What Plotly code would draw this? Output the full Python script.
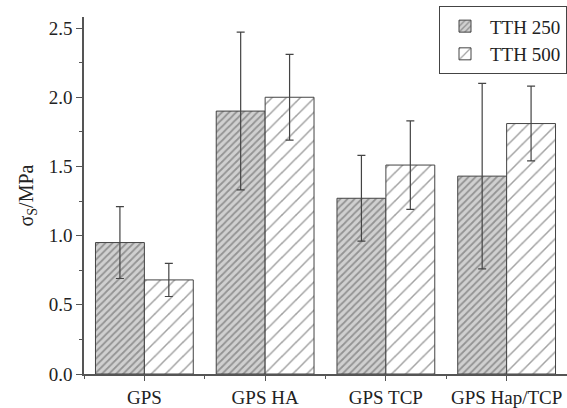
import plotly.graph_objects as go

categories = ["GPS", "GPS HA", "GPS TCP", "GPS Hap/TCP"]
tth250 = [0.95, 1.90, 1.27, 1.43]
tth250_err = [0.26, 0.57, 0.31, 0.67]
tth500 = [0.68, 2.00, 1.51, 1.81]
tth500_err = [0.12, 0.31, 0.32, 0.27]
xpos = list(range(len(categories)))

font = "Liberation Serif, Times New Roman, serif"
axcol = "#555555"

fig = go.Figure()
fig.add_trace(go.Bar(
    x=xpos, y=tth250, name="TTH 250",
    marker=dict(color="#d0d0d0", line=dict(color="#444444", width=1),
                pattern=dict(shape="/", fgcolor="#555555", bgcolor="#d0d0d0", size=5, solidity=0.35)),
    error_y=dict(type="data", array=tth250_err, color="#444444", thickness=1.2, width=4),
))
fig.add_trace(go.Bar(
    x=xpos, y=tth500, name="TTH 500",
    marker=dict(color="white", line=dict(color="#444444", width=1),
                pattern=dict(shape="/", fgcolor="#444444", bgcolor="white", size=10, solidity=0.15)),
    error_y=dict(type="data", array=tth500_err, color="#444444", thickness=1.2, width=4),
))

fig.update_layout(
    width=567, height=408,
    margin=dict(l=84, r=0, t=17, b=34),
    paper_bgcolor="white", plot_bgcolor="white",
    barmode="group", bargap=0.19, bargroupgap=0,
    font=dict(family=font, size=19, color="#222222"),
    showlegend=True,
    legend=dict(x=1.0, y=1.03, xanchor="right", yanchor="top",
                bordercolor="#444444", borderwidth=1, bgcolor="white",
                font=dict(family=font, size=19), tracegroupgap=0, itemwidth=40),
)
fig.update_xaxes(
    range=[-0.5, 3.5], tickmode="array", tickvals=xpos, ticktext=categories,
    showline=True, linecolor=axcol, linewidth=1.5, ticks="outside", ticklen=5,
    tickcolor=axcol, showgrid=False, zeroline=False, automargin=False,
    minor=dict(tickmode="linear", tick0=0.5, dtick=1, ticks="outside", ticklen=3, tickcolor=axcol),
    tickfont=dict(family=font, size=19),
)
fig.update_yaxes(
    range=[0, 2.58], tickmode="linear", tick0=0, dtick=0.5, tickformat=".1f",
    showline=True, linecolor=axcol, linewidth=1.5, ticks="outside", ticklen=6,
    tickcolor=axcol, showgrid=False, zeroline=False, automargin=False,
    minor=dict(tickmode="linear", tick0=0.25, dtick=0.5, ticks="outside", ticklen=3, tickcolor=axcol),
    title=dict(text="σ<sub>S</sub>/MPa", font=dict(family=font, size=20), standoff=10),
    tickfont=dict(family=font, size=19),
)

fig.write_html("out.html")
